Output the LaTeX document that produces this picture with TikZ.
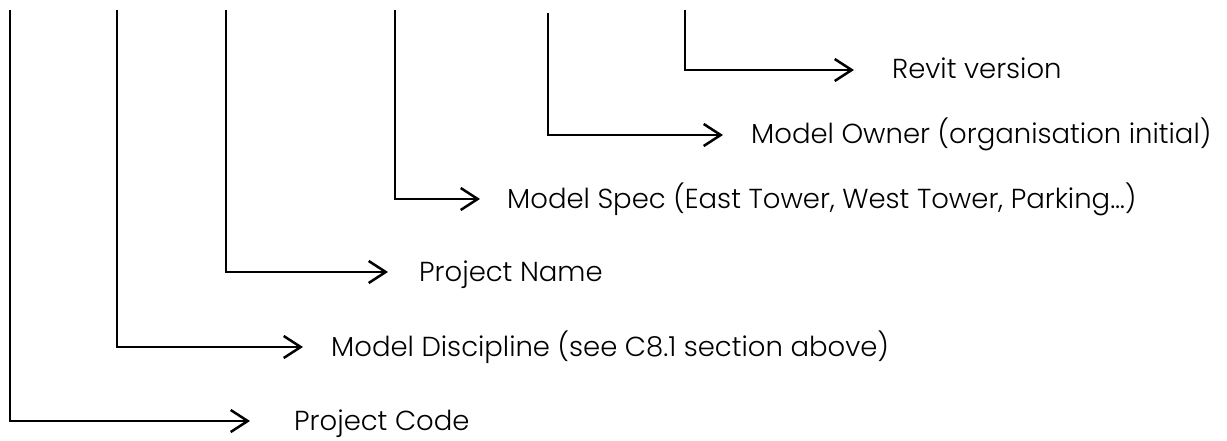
\documentclass[tikz,border=0pt]{standalone}
\usepackage{fontspec}
\setmainfont{Poppins Light}
\usetikzlibrary{arrows.meta}
\tikzset{
  conn/.style={line width=2.5pt, -{Straight Barb[length=17pt,width=22pt,line width=2.5pt]}},
  lbl/.style={anchor=base west, inner sep=0pt, font=\fontsize{27.5}{32}\selectfont}
}
\begin{document}
\begin{tikzpicture}[x=1pt,y=-1pt]
\useasboundingbox (0,0) rectangle (1227,441);
% tops
\coordinate (t1) at (10,10);
\coordinate (t2) at (117,10);
\coordinate (t3) at (226,10);
\coordinate (t4) at (395,10);
\coordinate (t5) at (548,13);
\coordinate (t6) at (685,10);
% arrow tips
\coordinate (a1) at (250,421);
\coordinate (a2) at (303,347);
\coordinate (a3) at (388,272);
\coordinate (a4) at (480,199);
\coordinate (a5) at (723,135);
\coordinate (a6) at (854,70);
% labels
\node[lbl] (code) at (294,430) {Project Code};
\node[lbl] (disc) at (331,356) {Model Discipline (see C8.1 section above)};
\node[lbl] (name) at (419,281) {Project Name};
\node[lbl] (spec) at (507,208) {Model Spec (East Tower, West Tower, Parking\dots)};
\node[lbl] (owner) at (751,144) {Model Owner (organisation initial)};
\node[lbl] (revit) at (892,79) {Revit version};
% connectors
\draw[conn] (t1) |- (a1);
\draw[conn] (t2) |- (a2);
\draw[conn] (t3) |- (a3);
\draw[conn] (t4) |- (a4);
\draw[conn] (t5) |- (a5);
\draw[conn] (t6) |- (a6);
\end{tikzpicture}
\end{document}
